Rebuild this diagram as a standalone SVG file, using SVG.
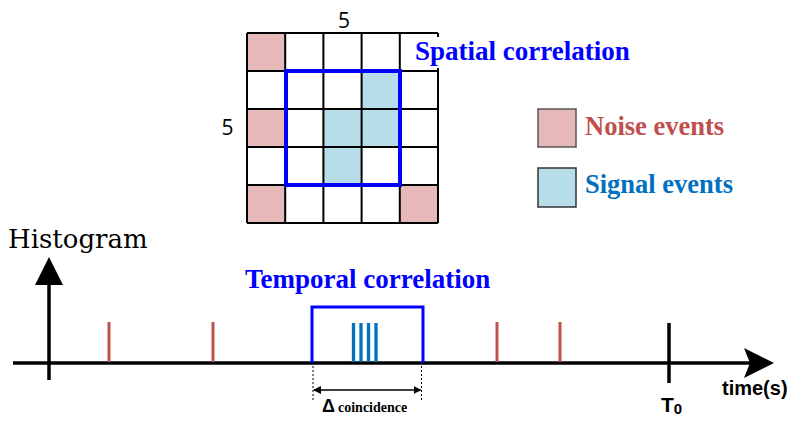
<svg xmlns="http://www.w3.org/2000/svg" width="793" height="421" viewBox="0 0 793 421">
<style>
.noise{fill:#e6b9b8}
.sig{fill:#b7dde8}
.grid{stroke:#000;stroke-width:2;fill:none}
.tb{font-family:"Liberation Serif","Times New Roman",serif;font-weight:bold;font-size:26.5px}
.big{font-size:27px}
.ax{stroke:#000;stroke-width:3.5;fill:none}
.red{stroke:#c0504d;stroke-width:3}
.bl{stroke:#0070c0;stroke-width:3.3}
</style>
<defs>
<marker id="ah" markerWidth="8" markerHeight="8" refX="7" refY="4" orient="auto-start-reverse" markerUnits="userSpaceOnUse">
<path d="M0,0 L8,4 L0,8 z" fill="#000"/>
</marker>
</defs>
<rect width="793" height="421" fill="#fff"/>
<g id="grid">
<rect class="noise" x="247" y="33" width="38.2" height="38"/>
<rect class="noise" x="247" y="109" width="38.2" height="38"/>
<rect class="noise" x="247" y="185" width="38.2" height="38"/>
<rect class="noise" x="399.8" y="185" width="38.2" height="38"/>
<rect class="sig" x="361.6" y="71" width="38.2" height="38"/>
<rect class="sig" x="323.4" y="109" width="38.2" height="38"/>
<rect class="sig" x="361.6" y="109" width="38.2" height="38"/>
<rect class="sig" x="323.4" y="147" width="38.2" height="38"/>
<path class="grid" d="M247,33H438M247,71H438M247,109H438M247,147H438M247,185H438M247,223H438M247,33V223M285.2,33V223M323.4,33V223M361.6,33V223M399.8,33V223M438,33V223"/>
<rect x="286" y="71" width="114" height="114" fill="none" stroke="#0000ff" stroke-width="4"/>
</g>
<g id="spatial-label">
<rect x="409" y="37" width="222" height="31" fill="#fff"/>
<text class="tb big" x="415" y="60" fill="#0000ff">Spatial correlation</text>
</g>
<g id="dim-labels" font-family="'Open Sans','Liberation Sans',sans-serif" font-size="21" text-anchor="middle" fill="#000">
<text x="344" y="28">5</text>
<text x="227.5" y="135">5</text>
</g>
<g id="legend-noise">
<rect class="noise" x="538" y="109" width="38" height="38" stroke="#555" stroke-width="1.5"/>
<text class="tb" x="585" y="135" fill="#c0504d">Noise events</text>
</g>
<g id="legend-signal">
<rect class="sig" x="538" y="168" width="38" height="39" stroke="#333" stroke-width="1.5"/>
<text class="tb" x="585" y="193" fill="#0070c0">Signal events</text>
</g>
<g id="histogram-label">
<text x="8" y="248" font-family="'DejaVu Serif',serif" font-size="26" fill="#000">Histogram</text>
</g>
<g id="temporal-label">
<text class="tb big" x="245" y="288" fill="#0000ff">Temporal correlation</text>
</g>
<g id="connectors">
<line class="ax" x1="49" y1="380" x2="49" y2="272" stroke-width="3"/>
<polygon points="49,257 35,285 63,285" fill="#000"/>
<line class="ax" x1="13" y1="363" x2="752" y2="363"/>
<polygon points="744,348 774,363 744,378 750,363" fill="#000"/>
<line x1="669" y1="323" x2="669" y2="383" stroke="#000" stroke-width="3.5"/>
<line class="red" x1="109" y1="322" x2="109" y2="362"/>
<line class="red" x1="213" y1="322" x2="213" y2="362"/>
<line class="red" x1="497" y1="322" x2="497" y2="362"/>
<line class="red" x1="560" y1="322" x2="560" y2="362"/>
<path d="M312,363V307H423V363" fill="none" stroke="#0000ff" stroke-width="3"/>
<line class="bl" x1="353.5" y1="323" x2="353.5" y2="362"/>
<line class="bl" x1="361" y1="323" x2="361" y2="362"/>
<line class="bl" x1="368.5" y1="323" x2="368.5" y2="362"/>
<line class="bl" x1="376" y1="323" x2="376" y2="362"/>
<line x1="313" y1="366" x2="313" y2="400" stroke="#000" stroke-width="1" stroke-dasharray="2,2"/>
<line x1="421.5" y1="366" x2="421.5" y2="400" stroke="#000" stroke-width="1" stroke-dasharray="2,2"/>
<line x1="314" y1="390" x2="420.5" y2="390" stroke="#000" stroke-width="1.3" marker-start="url(#ah)" marker-end="url(#ah)"/>
</g>
<g id="delta-label">
<text x="322" y="412" font-family="'Liberation Sans',Arial,sans-serif" font-weight="bold" font-size="18" fill="#000">Δ</text>
<text x="338" y="412" font-family="'Liberation Serif',serif" font-weight="bold" font-size="14" fill="#000">coincidence</text>
</g>
<g id="t0-label" font-family="'Liberation Sans',Arial,sans-serif" font-weight="bold" fill="#000">
<text x="661" y="412" font-size="21">T<tspan font-size="15" dy="2">0</tspan></text>
</g>
<g id="time-label">
<text x="722" y="395" font-family="'Liberation Sans',Arial,sans-serif" font-weight="bold" font-size="20" fill="#000">time(s)</text>
</g>
</svg>
